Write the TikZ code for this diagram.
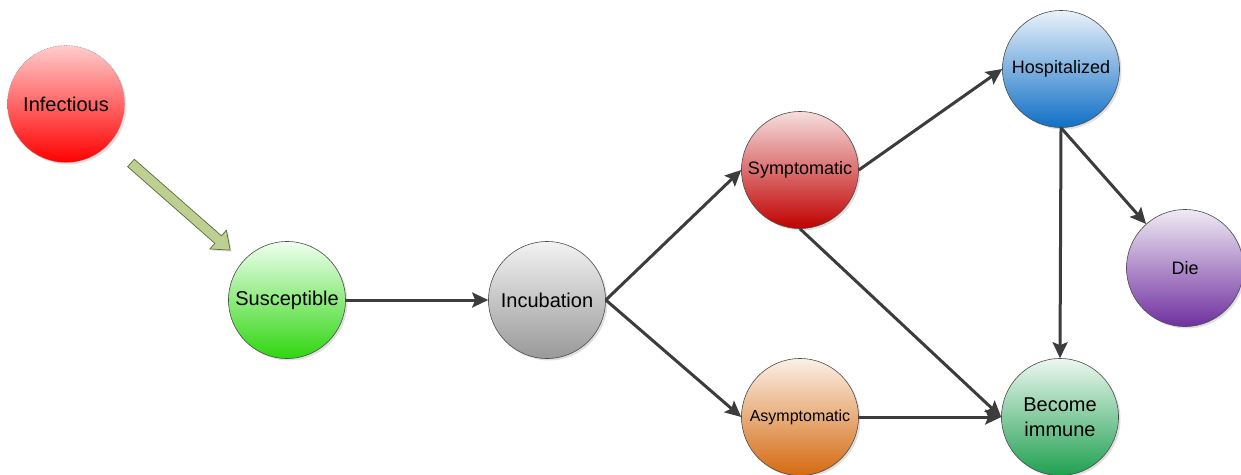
\documentclass[tikz,border=0pt]{standalone}
\usepackage{fontspec}
\setmainfont{Liberation Sans}
\usetikzlibrary{arrows.meta,shadows}
\definecolor{arr}{HTML}{3C3C3C}
\definecolor{blockfill}{HTML}{BDCF91}
\definecolor{blockdraw}{HTML}{5A6A3A}
\begin{document}
\begin{tikzpicture}[x=1pt,y=-1pt,
  state/.style={circle,minimum size=117pt,inner sep=0pt,draw=black!70,line width=0.6pt,
    shading=axis,drop shadow={shadow xshift=2pt,shadow yshift=-2pt,fill=black!25,opacity=0.5},
    align=center,text=black},
  link/.style={draw=arr,line width=3pt,-{Stealth[length=16pt,width=15pt,inset=3pt]}},
  fs/.style={font=\fontsize{#1}{#1}\selectfont}]
\useasboundingbox (0,0) rectangle (1241,474);

\node[state,draw=black!45,densely dotted,top color=red!20,bottom color=red,fs=20] (inf) at (66,104) {Infectious};
\node[state,top color=green!6!white,bottom color={rgb,255:red,47;green,214;blue,15},fs=20] (sus) at (287,300) {Susceptible};
\node[state,top color=black!5,bottom color=black!40,fs=20] (inc) at (547,300) {Incubation};
\node[state,top color={rgb,255:red,246;green,222;blue,222},bottom color={rgb,255:red,192;green,0;blue,0},fs=18] (sym) at (800,170) {Symptomatic};
\node[state,top color={rgb,255:red,252;green,240;blue,230},bottom color={rgb,255:red,212;green,106;blue,16},fs=16] (asy) at (800,417) {Asymptomatic};
\node[state,top color={rgb,255:red,234;green,242;blue,250},bottom color={rgb,255:red,15;green,111;blue,198},fs=18] (hos) at (1061,69) {Hospitalized};
\node[state,top color={rgb,255:red,240;green,234;blue,244},bottom color={rgb,255:red,112;green,48;blue,160},fs=18] (die) at (1185,268) {Die};
\node[state,top color={rgb,255:red,236;green,247;blue,240},bottom color={rgb,255:red,31;green,160;blue,80},font=\fontsize{20}{25}\selectfont] (imm) at (1060,417) {Become\\immune};

\draw[link] (sus.east) -- (inc.west);
\draw[link] (inc.east) -- (sym.west);
\draw[link] (inc.east) -- (asy.west);
\draw[link] (sym.east) -- (hos.west);
\draw[link] (sym.south) -- (imm.west);
\draw[link] (asy.east) -- (imm.west);
\draw[link] (hos.south) -- (imm.north);
\draw[link] (hos.south) -- (die);

\begin{scope}[shift={(131,163)},rotate=-41.3]
  \coordinate (bt) at (0,0);
  \filldraw[fill=blockfill,draw=blockdraw,line width=0.7pt,
    drop shadow={shadow xshift=1.5pt,shadow yshift=-1.5pt,fill=black!25,opacity=0.5}]
    (0,-5) -- (116,-5) -- (116,-12.5) -- (132,0) -- (116,12.5) -- (116,5) -- (0,5) -- cycle;
\end{scope}
\end{tikzpicture}
\end{document}
